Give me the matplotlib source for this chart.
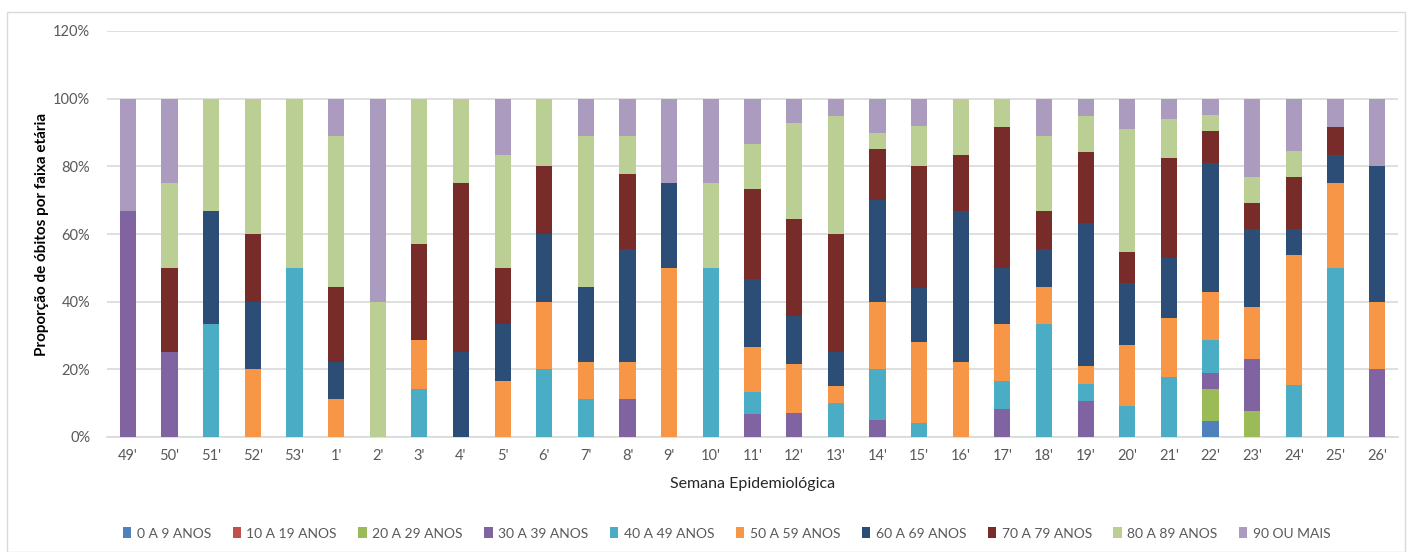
import matplotlib
matplotlib.use("Agg")
import matplotlib.pyplot as plt
from matplotlib.patches import Rectangle
from matplotlib.ticker import FuncFormatter, MultipleLocator
import numpy as np

plt.rcParams['font.family'] = ['Lato', 'DejaVu Sans']

weeks = ["49'", "50'", "51'", "52'", "53'", "1'", "2'", "3'", "4'", "5'", "6'", "7'", "8'",
         "9'", "10'", "11'", "12'", "13'", "14'", "15'", "16'", "17'", "18'", "19'", "20'",
         "21'", "22'", "23'", "24'", "25'", "26'"]

series_names = ["0 A 9 ANOS", "10 A 19 ANOS", "20 A 29 ANOS", "30 A 39 ANOS", "40 A 49 ANOS",
                "50 A 59 ANOS", "60 A 69 ANOS", "70 A 79 ANOS", "80 A 89 ANOS", "90 OU MAIS"]

a0_9 = [0] * 26 + [4.76, 0, 0, 0, 0]
a10_19 = [0] * 31
a20_29 = [0] * 26 + [9.52, 7.69, 0, 0, 0]
a30_39 = [66.67, 25, 0, 0, 0, 0, 0, 0, 0, 0, 0, 0, 11.11, 0, 0, 6.67, 7.14, 0, 5, 0, 0,
          8.33, 0, 10.53, 0, 0, 4.76, 15.38, 0, 0, 20]
a40_49 = [0, 0, 33.33, 0, 50, 0, 0, 14.29, 0, 0, 20, 11.11, 0, 0, 50, 6.67, 0, 10, 15, 4, 0,
          8.33, 33.33, 5.26, 9.09, 17.65, 9.52, 0, 15.38, 50, 0]
a50_59 = [0, 0, 0, 20, 0, 11.11, 0, 14.29, 0, 16.67, 20, 11.11, 11.11, 50, 0, 13.33, 14.29, 5,
          20, 24, 22.22, 16.67, 11.11, 5.26, 18.18, 17.65, 14.29, 15.38, 38.46, 25, 20]
a60_69 = [0, 0, 33.33, 20, 0, 11.11, 0, 0, 25, 16.67, 20, 22.22, 33.33, 25, 0, 20, 14.29, 10,
          30, 16, 44.44, 16.67, 11.11, 42.11, 18.18, 17.65, 38.10, 23.08, 7.69, 8.33, 40]
a70_79 = [0, 25, 0, 20, 0, 22.22, 0, 28.57, 50, 16.67, 20, 0, 22.22, 0, 0, 26.67, 28.57, 35,
          15, 36, 16.67, 41.67, 11.11, 21.05, 9.09, 29.41, 9.52, 7.69, 15.38, 8.33, 0]
a80_89 = [0, 25, 33.33, 40, 50, 44.44, 40, 42.86, 25, 33.33, 20, 44.44, 11.11, 0, 25, 13.33,
          28.57, 35, 5, 12, 16.67, 8.33, 22.22, 10.53, 36.36, 11.76, 4.76, 7.69, 7.69, 0, 0]
a90 = [33.33, 25, 0, 0, 0, 11.11, 60, 0, 0, 16.67, 0, 11.11, 11.11, 25, 25, 13.33, 7.14, 5,
       10, 8, 0, 0, 11.11, 5.26, 9.09, 5.88, 4.76, 23.08, 15.38, 8.33, 20]

series_values = [a0_9, a10_19, a20_29, a30_39, a40_49, a50_59, a60_69, a70_79, a80_89, a90]
colors = ["#4F81BD", "#C0504D", "#9BBB59", "#8064A2", "#4BACC6", "#F79646",
          "#2C4D75", "#772C2A", "#BBCF95", "#AA9BBF"]

fig = plt.figure(figsize=(14.14, 5.52), dpi=100)
ax = fig.add_axes([107 / 1414, 1 - 437 / 552, (1398 - 107) / 1414, (437 - 31) / 552])

x = np.arange(len(weeks))
bottom = np.zeros(len(weeks))
for name, vals, c in zip(series_names, series_values, colors):
    v = np.array(vals, dtype=float)
    ax.bar(x, v, 0.39, bottom=bottom, color=c, label=name, linewidth=0, zorder=3)
    bottom += v

ax.set_xlim(-0.5, len(weeks) - 0.5)
ax.set_ylim(0, 120)
ax.yaxis.set_major_locator(MultipleLocator(20))
ax.yaxis.set_major_formatter(FuncFormatter(lambda v, p: f"{int(v)}%"))
ax.set_xticks(x)
ax.set_xticklabels(weeks)
ax.grid(axis='y', color='#D9D9D9', linewidth=1.2, zorder=0)
for s in ['top', 'right', 'left']:
    ax.spines[s].set_visible(False)
ax.spines['bottom'].set_color('#D9D9D9')
ax.spines['bottom'].set_linewidth(1.2)
ax.tick_params(axis='both', length=0, colors='#595959', labelsize=10.5)
ax.tick_params(axis='x', pad=9)
ax.tick_params(axis='y', pad=12)

ax.set_xlabel("Semana Epidemiológica", fontsize=11.5, color='#262626', labelpad=10)
ax.set_ylabel("Proporção de óbitos por faixa etária", fontsize=11, fontweight='bold',
              color='#000000', labelpad=3)

leg = fig.legend(loc='center', bbox_to_anchor=(0.514, 0.034), ncol=10, frameon=False,
                 fontsize=10, handlelength=0.6, handleheight=0.9, handletextpad=0.4,
                 columnspacing=1.55)
for t in leg.get_texts():
    t.set_color('#595959')

fig.patches.append(Rectangle((7 / 1414, 0), 1398 / 1414, 1 - 12 / 552,
                             transform=fig.transFigure, fill=False,
                             edgecolor='#D9D9D9', linewidth=1))

fig.savefig("out.png", dpi=100)
